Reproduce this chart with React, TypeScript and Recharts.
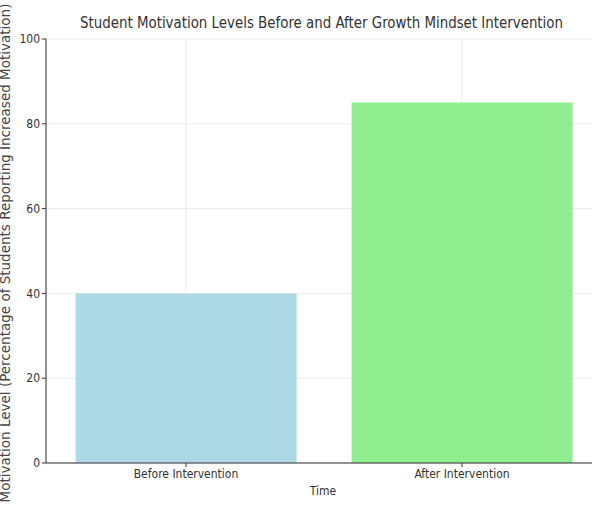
import { BarChart, Bar, XAxis, YAxis, CartesianGrid, Cell } from 'recharts';

const categories = ['Before Intervention', 'After Intervention'];
const motivation = [40, 85];
const barColors = ['#add8e6', '#90ee90'];
const yTicks = [0, 20, 40, 60, 80, 100];

const chartData = categories.map((name, i) => ({ name, value: motivation[i] }));

const narrow = "'Liberation Sans Narrow', 'DejaVu Sans Condensed', 'Arial Narrow', sans-serif";

function YLabel() {
  return (
    <text
      x={0}
      y={0}
      transform="translate(10, 253) rotate(-90)"
      textAnchor="middle"
      fontFamily="'DejaVu Sans', sans-serif"
      fontSize={13.5}
      fill="#444"
    >
      Motivation Level (Percentage of Students Reporting Increased Motivation)
    </text>
  );
}

export default function App() {
  return (
    <div style={{ position: 'absolute', left: 0, top: 0, width: 592, height: 506, overflow: 'hidden', background: '#fff' }}>
      <svg width={592} height={45} style={{ position: 'absolute', left: 0, top: 0 }}>
        <text
          x={80}
          y={28}
          textLength={483}
          lengthAdjust="spacingAndGlyphs"
          fontFamily={narrow}
          fontSize={16}
          fill="#333"
        >
          Student Motivation Levels Before and After Growth Mindset Intervention
        </text>
      </svg>
      <BarChart
        width={600}
        height={506}
        data={chartData}
        margin={{ top: 39, right: 0, bottom: 13, left: 0 }}
        barCategoryGap="10%"
      >
        <CartesianGrid stroke="#ebebeb" strokeWidth={1} />
        <XAxis
          dataKey="name"
          height={30}
          padding={{ left: 2, right: 0 }}
          tickSize={4}
          stroke="#333"
          tick={{ fontSize: 12, fontFamily: narrow, fill: '#333' }}
          label={{ value: 'Time', position: 'insideBottom', offset: -2, fontSize: 12, fontFamily: narrow, fill: '#333' }}
        />
        <YAxis
          width={46}
          domain={[0, 100]}
          ticks={yTicks}
          tickSize={4}
          stroke="#333"
          tick={{ fontSize: 12, fontFamily: narrow, fill: '#333' }}
          label={<YLabel />}
        />
        <Bar dataKey="value" isAnimationActive={false}>
          {chartData.map((d, i) => (
            <Cell key={d.name} fill={barColors[i]} />
          ))}
        </Bar>
      </BarChart>
    </div>
  );
}
